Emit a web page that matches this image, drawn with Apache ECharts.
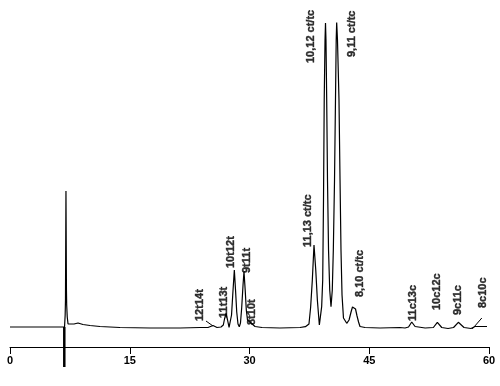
<!DOCTYPE html>
<html>
<head>
<meta charset="utf-8">
<script src="https://cdn.jsdelivr.net/npm/echarts@6/dist/echarts.min.js"></script>
<style>
html,body{margin:0;padding:0;background:#fff;}
#chart{width:500px;height:386px;}
</style>
</head>
<body>
<div id="chart"></div>
<script>
// Retention time (min) and detector signal (arbitrary units)
const times = [0,6.83,6.91,6.95,7.01,7.07,7.10,7.17,7.27,7.52,8.02,8.52,9.14,10.02,11.27,13.78,17.54,21.3,23.8,24.8,25.43,25.93,26.43,
  26.72,26.87,27.06,27.25,27.44,27.62,27.75,27.9,28.1,28.25,28.4,28.56,28.72,28.87,29.02,29.19,29.31,29.46,29.6,29.75,29.98,30.19,30.69,31.57,33.82,36.33,
  37.0,37.45,37.66,37.87,38.08,38.3,38.5,38.75,
  39.04,39.17,39.27,39.36,39.46,39.52,39.58,39.67,39.77,39.9,40.05,40.21,40.37,40.5,40.65,40.77,40.86,40.92,41.02,41.21,41.34,41.46,41.59,41.77,42.18,
  42.47,42.72,42.9,43.09,43.28,43.47,43.66,43.84,44.47,46.35,48.85,
  49.48,49.92,50.32,50.74,52.0,53.03,53.53,54.08,54.87,55.56,56.16,56.87,57.75,58.25,59.75];
const signal = [20,20,32,47,156,57,42,30,23,21,23,24,22.5,21.5,20.5,19.5,19,19,19.5,19.5,21.5,19.5,20,
  22,28,33.7,27,19.7,21,32,52,77,57,35,23,20.3,24,39,62,75.5,57,37,27,27,24,20.5,19.5,19,19.5,
  20.3,23,40,67,102,77,47,22,
  40.3,67,147,247,307,324,307,247,167,97,57,40.3,57,97,167,247,307,324.5,307,247,167,97,52,29,23.7,
  27,35,40,41,38,31,25,20.5,19.5,19,19.5,
  19,20,25,20.5,19,19.5,24.7,19.5,18.5,19.5,24.7,19.5,18.5,20.5,20.5];

// Peak labels
const peakNames = ['12t14t','11t13t','10t12t','9t11t','8t10t','11,13 ct/tc','10,12 ct/tc','9,11 ct/tc','8,10 ct/tc','11c13c','10c12c','9c11c','8c10c'];
const labelTimes = [23.85,26.74,27.68,29.65,30.25,37.36,37.7,42.8,43.84,50.48,53.45,56.16,59.23];
const labelHeights = [26,29,79,74,22,100,284,290,50,26,37,32,39];

// Injection marker and label leader lines
const injectionTime = 6.80;
const injectionSpan = [20,-20];
const leader12t14t = [[24.55,26],[25.43,21]];
const leader8c10c = [[59.1,29],[57.9,18]];

const xTicks = [0,15,30,45,60];

const FONT = '"Liberation Sans", Arial, sans-serif';
const chart = echarts.init(document.getElementById('chart'), null, {renderer:'canvas'});
const lineData = times.map((t,i)=>[t,signal[i]]);
const labelData = peakNames.map((n,i)=>({name:n, value:[labelTimes[i],labelHeights[i]]}));

chart.setOption({
  animation:false,
  backgroundColor:'#fff',
  grid:{left:10,right:11,top:0,bottom:39},
  xAxis:{
    type:'value', min:xTicks[0], max:xTicks[xTicks.length-1], interval:15,
    axisLine:{onZero:false, lineStyle:{color:'#000',width:1}},
    axisTick:{show:true, length:7, lineStyle:{color:'#000',width:1}},
    axisLabel:{color:'#000', fontFamily:FONT, fontWeight:'bold', fontSize:11, margin:8},
    splitLine:{show:false}
  },
  yAxis:{type:'value', min:0, max:347, show:false, splitLine:{show:false}},
  series:[
    {type:'line', data:lineData, showSymbol:false, symbol:'none', lineStyle:{color:'#000',width:1.2}, clip:false, z:3},
    {type:'line', data:[[injectionTime,injectionSpan[0]],[injectionTime,injectionSpan[1]]], symbol:'none', clip:false, lineStyle:{color:'#000',width:2.5}, z:4},
    {type:'line', data:leader12t14t, symbol:'none', lineStyle:{color:'#000',width:1}},
    {type:'line', data:leader8c10c, symbol:'none', clip:false, lineStyle:{color:'#000',width:1}},
    {type:'scatter', data:labelData, symbolSize:0, silent:true, clip:false,
      label:{show:true, position:'inside', formatter:'{b}', rotate:90, align:'left', verticalAlign:'middle',
        color:'#000', fontFamily:FONT, fontWeight:700, fontSize:11, textBorderColor:'#000', textBorderWidth:0.4}}
  ]
});
</script>
</body>
</html>
